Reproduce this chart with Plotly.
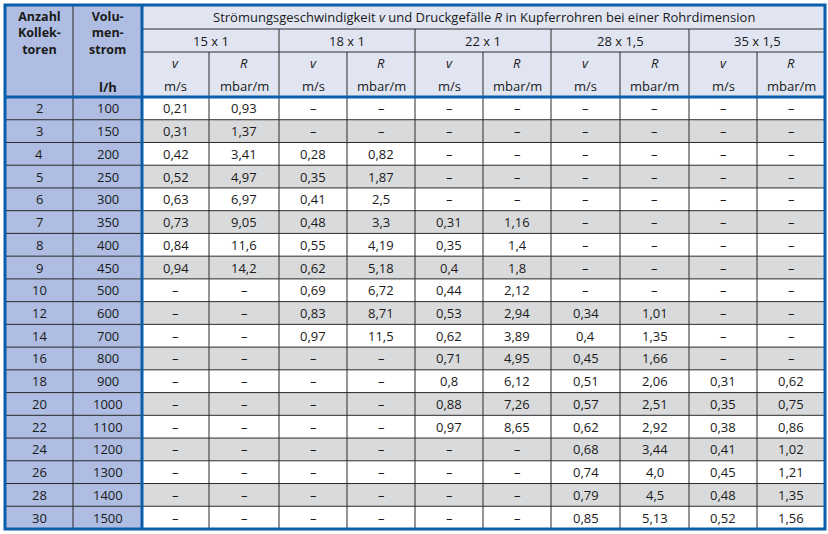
import plotly.graph_objects as go

# ---- data -------------------------------------------------------------
anzahl = [2, 3, 4, 5, 6, 7, 8, 9, 10, 12, 14, 16, 18, 20, 22, 24, 26, 28, 30]
volumenstrom = [100, 150, 200, 250, 300, 350, 400, 450, 500, 600, 700, 800,
                900, 1000, 1100, 1200, 1300, 1400, 1500]
dimensionen = ["15 x 1", "18 x 1", "22 x 1", "28 x 1,5", "35 x 1,5"]

D = "–"
v_15 = ["0,21", "0,31", "0,42", "0,52", "0,63", "0,73", "0,84", "0,94"] + [D] * 11
r_15 = ["0,93", "1,37", "3,41", "4,97", "6,97", "9,05", "11,6", "14,2"] + [D] * 11
v_18 = [D] * 2 + ["0,28", "0,35", "0,41", "0,48", "0,55", "0,62", "0,69", "0,83", "0,97"] + [D] * 8
r_18 = [D] * 2 + ["0,82", "1,87", "2,5", "3,3", "4,19", "5,18", "6,72", "8,71", "11,5"] + [D] * 8
v_22 = [D] * 5 + ["0,31", "0,35", "0,4", "0,44", "0,53", "0,62", "0,71", "0,8", "0,88", "0,97"] + [D] * 4
r_22 = [D] * 5 + ["1,16", "1,4", "1,8", "2,12", "2,94", "3,89", "4,95", "6,12", "7,26", "8,65"] + [D] * 4
v_28 = [D] * 9 + ["0,34", "0,4", "0,45", "0,51", "0,57", "0,62", "0,68", "0,74", "0,79", "0,85"]
r_28 = [D] * 9 + ["1,01", "1,35", "1,66", "2,06", "2,51", "2,92", "3,44", "4,0", "4,5", "5,13"]
v_35 = [D] * 12 + ["0,31", "0,35", "0,38", "0,41", "0,45", "0,48", "0,52"]
r_35 = [D] * 12 + ["0,62", "0,75", "0,86", "1,02", "1,21", "1,35", "1,56"]

value_cols = [v_15, r_15, v_18, r_18, v_22, r_22, v_28, r_28, v_35, r_35]

titel = ("Strömungsgeschwindigkeit <i>v</i> und Druckgefälle <i>R</i> "
         "in Kupferrohren bei einer Rohrdimension")
kopf_anzahl = "Anzahl<br>Kollek-<br>toren"
kopf_strom = "Volu-<br>men-<br>strom"
kopf_einheit = "l/h"

# ---- layout geometry (pixels) ----------------------------------------
W, H = 828, 534
col_x = [5, 73, 142, 209, 279, 347, 415, 483, 551, 620, 689, 757, 825]
hdr_y = [5, 29, 52, 97]
n_rows = len(anzahl)
y_bot = 529
row_h = (y_bot - hdr_y[-1]) / n_rows
row_y = [hdr_y[-1] + i * row_h for i in range(n_rows + 1)]

BLUE = "#0a5fad"
LEFT_FILL = "#aebde1"
HDR_FILL = "#e0e5f1"
GRAY = "#d9dadc"
LINE = "#2a2a2a"
FONT = "Open Sans"

shapes = []
annos = []


def rect(x0, y0, x1, y1, fill):
    shapes.append(dict(type="rect", xref="x", yref="y", x0=x0, x1=x1, y0=y0, y1=y1,
                       fillcolor=fill, line=dict(width=0), layer="below"))


def line(x0, y0, x1, y1, color=LINE, width=1):
    shapes.append(dict(type="line", xref="x", yref="y", x0=x0, x1=x1, y0=y0, y1=y1,
                       line=dict(color=color, width=width)))


def text(x, y, s, size=13, bold=False):
    if bold:
        s = "<br>".join(f"<b>{p}</b>" for p in s.split("<br>"))
    annos.append(dict(x=x, y=y, xref="x", yref="y", text=s, showarrow=False,
                      font=dict(family=FONT, size=size, color="#1a1a1a"),
                      xanchor="center", yanchor="middle", borderpad=0))


# fills
rect(col_x[0], hdr_y[0], col_x[2], y_bot, LEFT_FILL)
rect(col_x[2], hdr_y[0], col_x[-1], hdr_y[-1], HDR_FILL)
for i in range(n_rows):
    rect(col_x[2], row_y[i], col_x[-1], row_y[i + 1], "white" if i % 2 == 0 else GRAY)

# grid lines
line(col_x[2], hdr_y[1], col_x[-1], hdr_y[1])
line(col_x[2], hdr_y[2], col_x[-1], hdr_y[2])
for i in range(1, n_rows):
    line(col_x[0], row_y[i], col_x[-1], row_y[i])
line(col_x[1], hdr_y[0], col_x[1], y_bot)
for k in range(3, len(col_x) - 1):
    top = hdr_y[1] if k % 2 == 0 else hdr_y[2]
    line(col_x[k], top, col_x[k], y_bot)

# blue rules
line(col_x[2], hdr_y[0], col_x[2], y_bot, BLUE, 3)
line(col_x[0], hdr_y[-1], col_x[-1], hdr_y[-1], BLUE, 3)
shapes.append(dict(type="rect", xref="x", yref="y", x0=col_x[0], x1=col_x[-1],
                   y0=hdr_y[0], y1=y_bot, line=dict(color=BLUE, width=3)))

# header text
cx0 = (col_x[0] + col_x[1]) / 2
cx1 = (col_x[1] + col_x[2]) / 2
text(cx0, 33, kopf_anzahl, 12.5, True)
text(cx1, 33, kopf_strom, 12.5, True)
text(cx1, 87, kopf_einheit, 13, True)

text((col_x[2] + col_x[-1]) / 2, (hdr_y[0] + hdr_y[1]) / 2, titel, 13)
for g, dim in enumerate(dimensionen):
    xa, xb = col_x[2 + 2 * g], col_x[4 + 2 * g]
    text((xa + xb) / 2, (hdr_y[1] + hdr_y[2]) / 2 + 0.5, dim, 13)
    for k, (sym, unit) in enumerate([("v", "m/s"), ("R", "mbar/m")]):
        cx = (col_x[2 + 2 * g + k] + col_x[3 + 2 * g + k]) / 2
        text(cx, 63, f"<i>{sym}</i>", 13)
        text(cx, 86, unit, 13)

# body text
for i in range(n_rows):
    cy = (row_y[i] + row_y[i + 1]) / 2
    text(cx0, cy, str(anzahl[i]), 13)
    text(cx1, cy, str(volumenstrom[i]), 13)
    for c, col in enumerate(value_cols):
        cx = (col_x[2 + c] + col_x[3 + c]) / 2
        text(cx, cy, col[i], 13)

fig = go.Figure()
fig.update_layout(
    width=W, height=H, margin=dict(l=0, r=0, t=0, b=0),
    paper_bgcolor="white", plot_bgcolor="white",
    xaxis=dict(range=[0, W], visible=False, fixedrange=True),
    yaxis=dict(range=[H, 0], visible=False, fixedrange=True),
    shapes=shapes, annotations=annos, showlegend=False,
)
# page body has a default margin; drop it so the table sits at the window edge
fig.write_html("out.html", config={"displayModeBar": False},
               post_script="document.body.style.margin='0';")
